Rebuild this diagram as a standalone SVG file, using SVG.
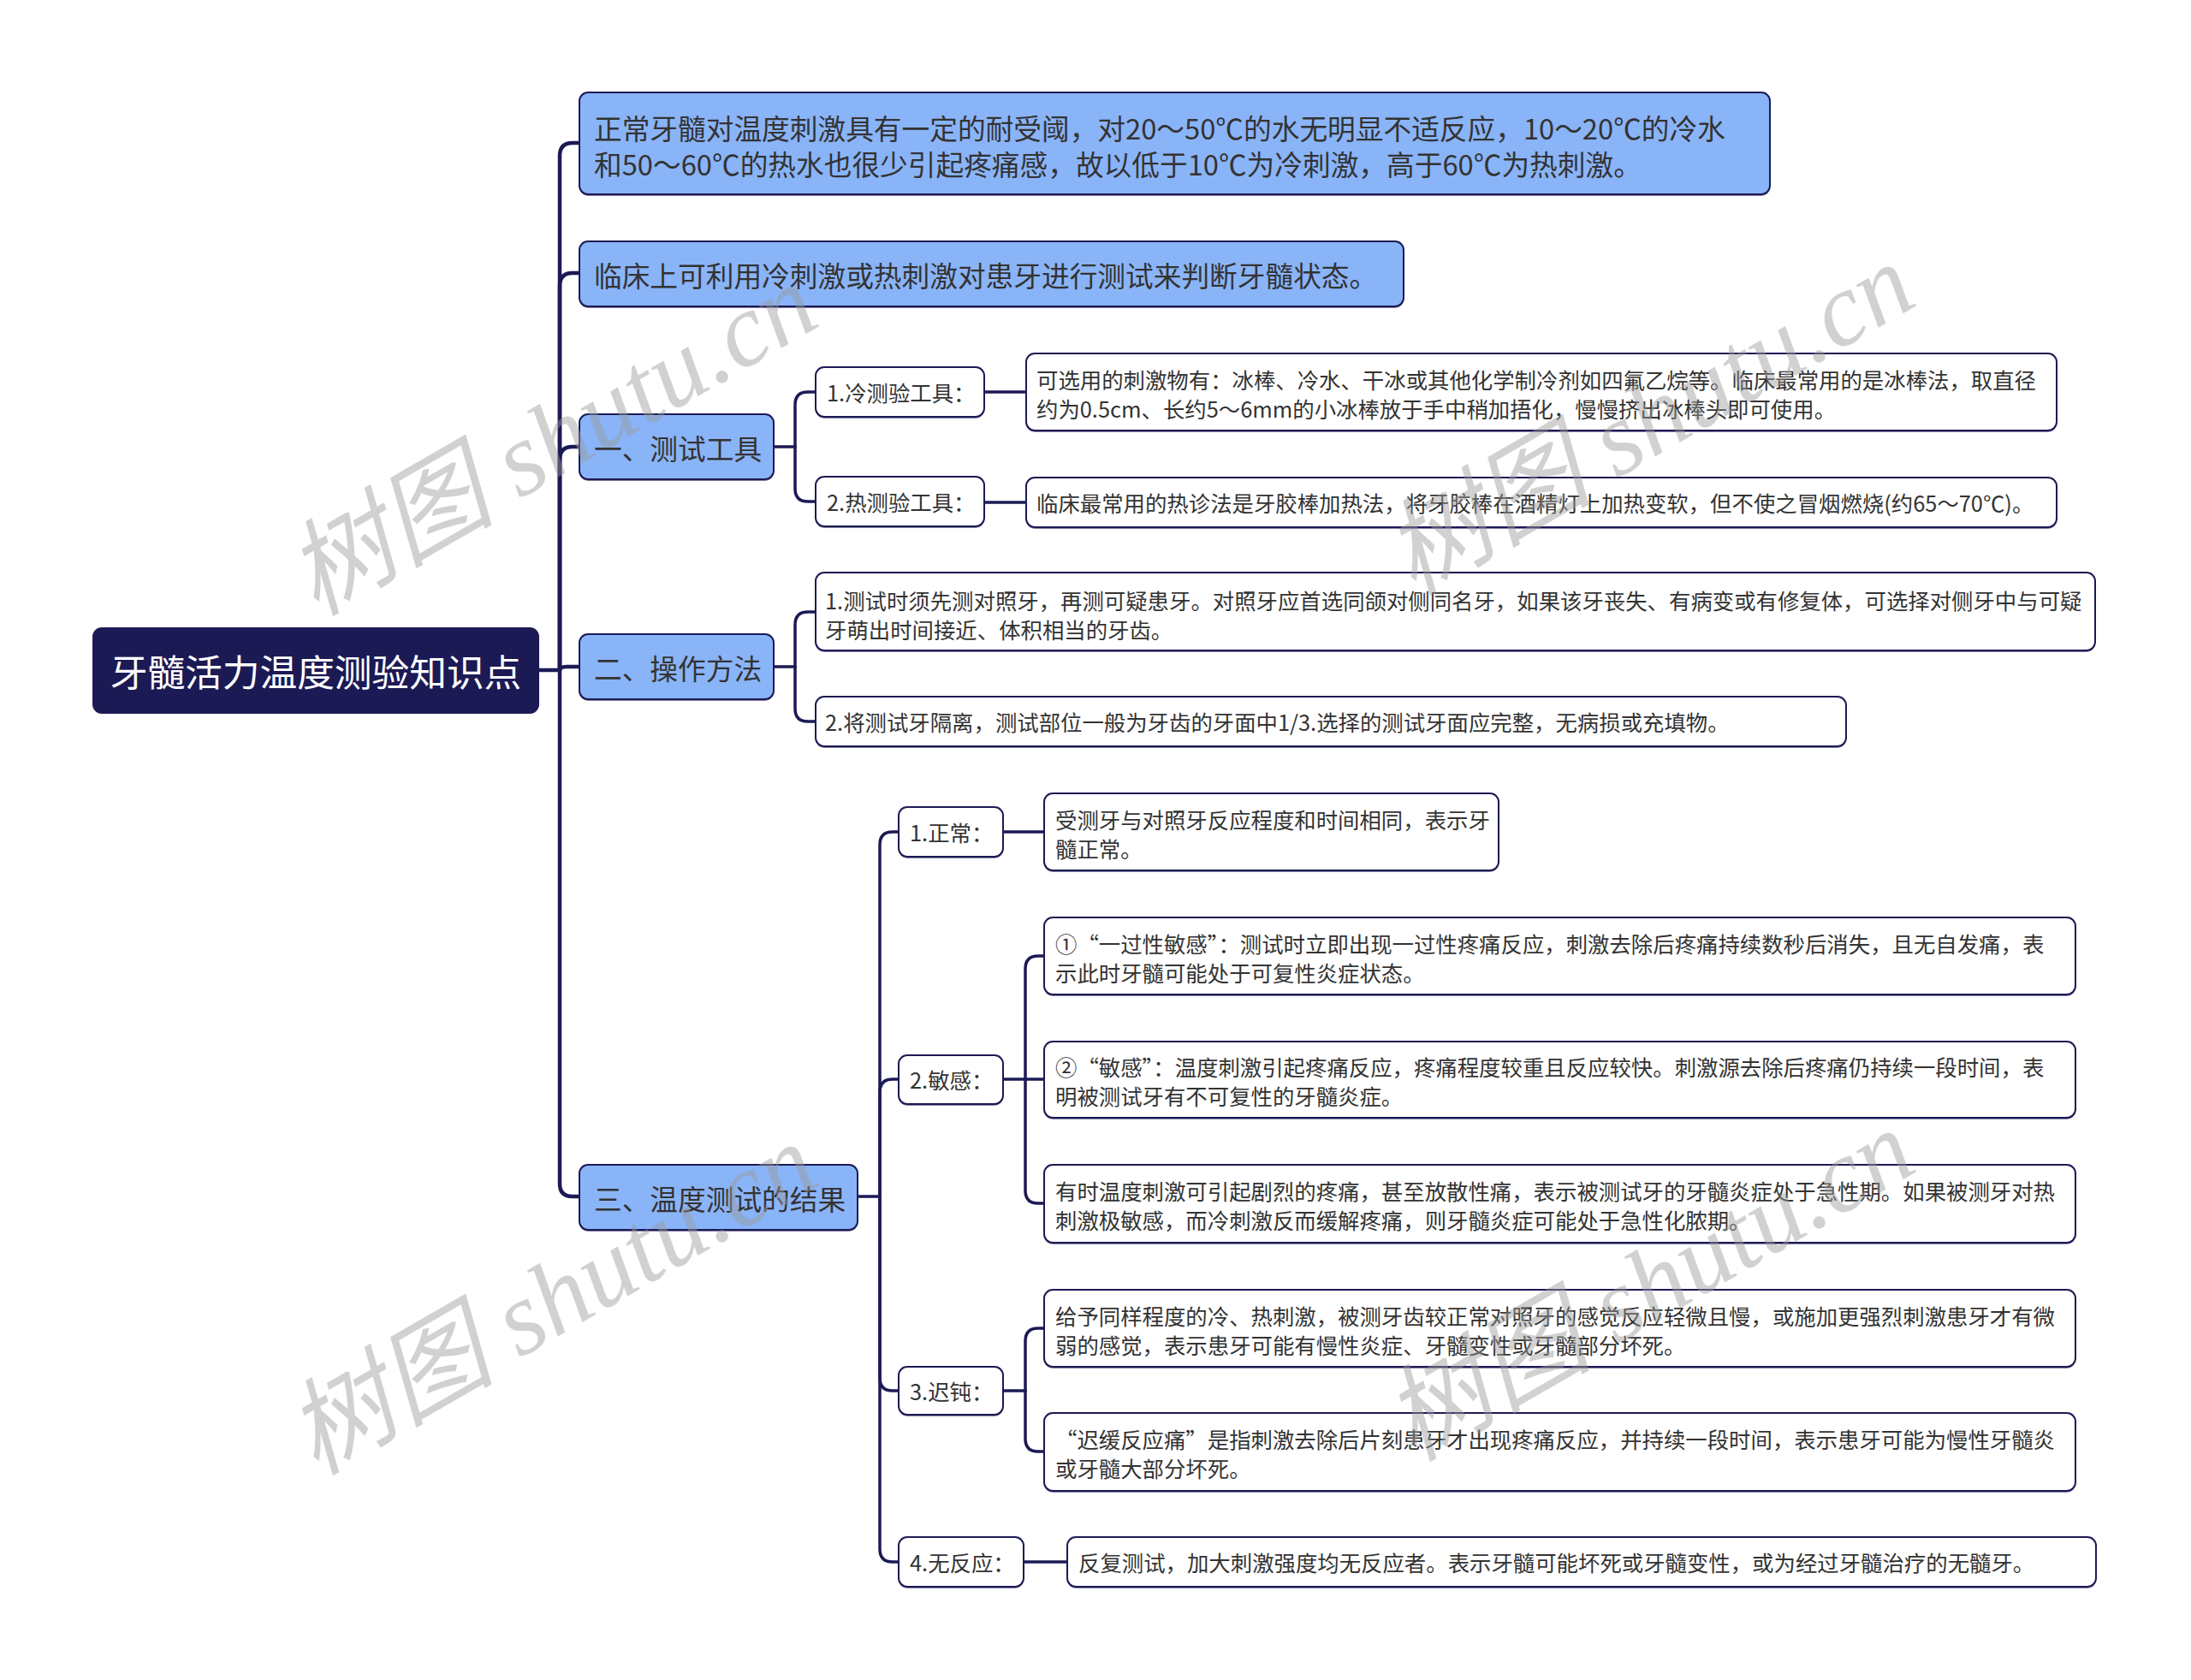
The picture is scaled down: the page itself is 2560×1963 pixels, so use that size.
<svg xmlns="http://www.w3.org/2000/svg" width="2560" height="1963" viewBox="0 0 2560 1963">
<style>
text{font-family:"Noto Sans CJK SC","Noto Sans",sans-serif;fill:#333;dominant-baseline:central}
.t0{font-size:43.7px;fill:#fff}
.t1{font-size:32.7px}
.t2{font-size:25.4px}
.b1{fill:#8ab4f8;stroke:#1c1a55;stroke-width:2}
.b2{fill:#fff;stroke:#1c1a55;stroke-width:2}
.sh{fill:#1c1a55;opacity:.55}
.c{fill:none;stroke:#1c1a55;stroke-width:3.5;stroke-linecap:round}
.cm{fill:none;stroke:#1c1a55;stroke-width:4.5;stroke-linecap:round}
.wm{font-family:"Liberation Serif","Noto Sans CJK SC",serif;font-style:italic;font-size:122px;fill:#9a9a9a;opacity:.45;dominant-baseline:auto}
</style>
<rect width="2560" height="1963" fill="#fff"/>
<g id="connectors">
<path class="cm" d="M630,783 H654"/>
<path class="cm" d="M654,783 V182 Q654,167 669,167 H677"/>
<path class="cm" d="M654,783 V334 Q654,319 669,319 H677"/>
<path class="cm" d="M654,783 V537 Q654,522 669,522 H677"/>
<path class="cm" d="M654,783 Q654,779 662,779 H677"/>
<path class="cm" d="M654,783 V1383 Q654,1398 669,1398 H677"/>
<path class="c" d="M905,522 H929"/>
<path class="c" d="M929,522 V473 Q929,458 944,458 H953"/>
<path class="c" d="M929,522 V571 Q929,586 944,586 H953"/>
<path class="c" d="M1150,458 H1199"/>
<path class="c" d="M1150,587 H1199"/>
<path class="c" d="M905,779 H929"/>
<path class="c" d="M929,779 V730 Q929,715 944,715 H953"/>
<path class="c" d="M929,779 V828 Q929,843 944,843 H953"/>
<path class="c" d="M1002,1398 H1028"/>
<path class="c" d="M1028,1398 V987 Q1028,972 1043,972 H1050"/>
<path class="c" d="M1028,1398 V1276 Q1028,1261 1043,1261 H1050"/>
<path class="c" d="M1028,1398 V1610 Q1028,1625 1043,1625 H1050"/>
<path class="c" d="M1028,1398 V1810 Q1028,1825 1043,1825 H1050"/>
<path class="c" d="M1172,972 H1220"/>
<path class="c" d="M1172,1261 H1198"/>
<path class="c" d="M1198,1261 V1132 Q1198,1117 1213,1117 H1220"/>
<path class="c" d="M1198,1261 H1220"/>
<path class="c" d="M1198,1261 V1391 Q1198,1406 1213,1406 H1220"/>
<path class="c" d="M1172,1625 H1198"/>
<path class="c" d="M1198,1625 V1567 Q1198,1552 1213,1552 H1220"/>
<path class="c" d="M1198,1625 V1681 Q1198,1696 1213,1696 H1220"/>
<path class="c" d="M1196,1825 H1247"/>
</g>
<g id="root">
<rect x="108" y="733" width="522" height="101" rx="11" fill="#1c1a55"/>
<text class="t0" x="369" y="783" text-anchor="middle">牙髓活力温度测验知识点</text>
</g>
<g id="n1">
<rect class="sh" x="677" y="110" width="1391" height="119" rx="10"/>
<rect class="b1" x="677" y="108" width="1391" height="119" rx="10"/>
<text class="t1" x="694" y="148">正常牙髓对温度刺激具有一定的耐受阈，对20～50℃的水无明显不适反应，10～20℃的冷水</text>
<text class="t1" x="694" y="190">和50～60℃的热水也很少引起疼痛感，故以低于10℃为冷刺激，高于60℃为热刺激。</text>
</g>
<g id="n2">
<rect class="sh" x="677" y="284" width="963" height="76" rx="10"/>
<rect class="b1" x="677" y="282" width="963" height="76" rx="10"/>
<text class="t1" x="694" y="320">临床上可利用冷刺激或热刺激对患牙进行测试来判断牙髓状态。</text>
</g>
<g id="n3">
<rect class="sh" x="677" y="486" width="227" height="76" rx="10"/>
<rect class="b1" x="677" y="484" width="227" height="76" rx="10"/>
<text class="t1" x="694" y="522">一、测试工具</text>
</g>
<g id="n3a">
<rect class="sh" x="953" y="431" width="197" height="58" rx="10"/>
<rect class="b2" x="953" y="429" width="197" height="58" rx="10"/>
<text class="t2" x="966" y="458">1.冷测验工具：</text>
</g>
<g id="n3a1">
<rect class="sh" x="1199" y="415" width="1204" height="90" rx="10"/>
<rect class="b2" x="1199" y="413" width="1204" height="90" rx="10"/>
<text class="t2" x="1211" y="443">可选用的刺激物有：冰棒、冷水、干冰或其他化学制冷剂如四氟乙烷等。临床最常用的是冰棒法，取直径</text>
<text class="t2" x="1211" y="477">约为0.5cm、长约5～6mm的小冰棒放于手中稍加捂化，慢慢挤出冰棒头即可使用。</text>
</g>
<g id="n3b">
<rect class="sh" x="953" y="559" width="197" height="58" rx="10"/>
<rect class="b2" x="953" y="557" width="197" height="58" rx="10"/>
<text class="t2" x="966" y="586">2.热测验工具：</text>
</g>
<g id="n3b1">
<rect class="sh" x="1199" y="560" width="1204" height="58" rx="10"/>
<rect class="b2" x="1199" y="558" width="1204" height="58" rx="10"/>
<text class="t2" x="1211" y="587">临床最常用的热诊法是牙胶棒加热法，将牙胶棒在酒精灯上加热变软，但不使之冒烟燃烧(约65～70℃)。</text>
</g>
<g id="n4">
<rect class="sh" x="677" y="743" width="227" height="76" rx="10"/>
<rect class="b1" x="677" y="741" width="227" height="76" rx="10"/>
<text class="t1" x="694" y="779">二、操作方法</text>
</g>
<g id="n4a">
<rect class="sh" x="953" y="671" width="1495" height="91" rx="10"/>
<rect class="b2" x="953" y="669" width="1495" height="91" rx="10"/>
<text class="t2" x="964" y="701">1.测试时须先测对照牙，再测可疑患牙。对照牙应首选同颌对侧同名牙，如果该牙丧失、有病变或有修复体，可选择对侧牙中与可疑</text>
<text class="t2" x="964" y="735">牙萌出时间接近、体积相当的牙齿。</text>
</g>
<g id="n4b">
<rect class="sh" x="953" y="816" width="1204" height="58" rx="10"/>
<rect class="b2" x="953" y="814" width="1204" height="58" rx="10"/>
<text class="t2" x="964" y="843">2.将测试牙隔离，测试部位一般为牙齿的牙面中1/3.选择的测试牙面应完整，无病损或充填物。</text>
</g>
<g id="n5">
<rect class="sh" x="677" y="1363" width="325" height="76" rx="10"/>
<rect class="b1" x="677" y="1361" width="325" height="76" rx="10"/>
<text class="t1" x="694" y="1399">三、温度测试的结果</text>
</g>
<g id="n5a">
<rect class="sh" x="1050" y="945" width="122" height="58" rx="10"/>
<rect class="b2" x="1050" y="943" width="122" height="58" rx="10"/>
<text class="t2" x="1063" y="972">1.正常：</text>
</g>
<g id="n5a1">
<rect class="sh" x="1220" y="929" width="531" height="90" rx="10"/>
<rect class="b2" x="1220" y="927" width="531" height="90" rx="10"/>
<text class="t2" x="1233" y="957">受测牙与对照牙反应程度和时间相同，表示牙</text>
<text class="t2" x="1233" y="991">髓正常。</text>
</g>
<g id="n5b">
<rect class="sh" x="1050" y="1235" width="122" height="57" rx="10"/>
<rect class="b2" x="1050" y="1233" width="122" height="57" rx="10"/>
<text class="t2" x="1063" y="1261">2.敏感：</text>
</g>
<g id="n5b1">
<rect class="sh" x="1220" y="1074" width="1205" height="90" rx="10"/>
<rect class="b2" x="1220" y="1072" width="1205" height="90" rx="10"/>
<text class="t2" x="1233" y="1102">①“一过性敏感”：测试时立即出现一过性疼痛反应，刺激去除后疼痛持续数秒后消失，且无自发痛，表</text>
<text class="t2" x="1233" y="1136">示此时牙髓可能处于可复性炎症状态。</text>
</g>
<g id="n5b2">
<rect class="sh" x="1220" y="1219" width="1205" height="89" rx="10"/>
<rect class="b2" x="1220" y="1217" width="1205" height="89" rx="10"/>
<text class="t2" x="1233" y="1246">②“敏感”：温度刺激引起疼痛反应，疼痛程度较重且反应较快。刺激源去除后疼痛仍持续一段时间，表</text>
<text class="t2" x="1233" y="1280">明被测试牙有不可复性的牙髓炎症。</text>
</g>
<g id="n5b3">
<rect class="sh" x="1220" y="1363" width="1205" height="91" rx="10"/>
<rect class="b2" x="1220" y="1361" width="1205" height="91" rx="10"/>
<text class="t2" x="1233" y="1391">有时温度刺激可引起剧烈的疼痛，甚至放散性痛，表示被测试牙的牙髓炎症处于急性期。如果被测牙对热</text>
<text class="t2" x="1233" y="1425">刺激极敏感，而冷刺激反而缓解疼痛，则牙髓炎症可能处于急性化脓期。</text>
</g>
<g id="n5c">
<rect class="sh" x="1050" y="1599" width="122" height="56" rx="10"/>
<rect class="b2" x="1050" y="1597" width="122" height="56" rx="10"/>
<text class="t2" x="1063" y="1625">3.迟钝：</text>
</g>
<g id="n5c1">
<rect class="sh" x="1220" y="1509" width="1205" height="90" rx="10"/>
<rect class="b2" x="1220" y="1507" width="1205" height="90" rx="10"/>
<text class="t2" x="1233" y="1537">给予同样程度的冷、热刺激，被测牙齿较正常对照牙的感觉反应轻微且慢，或施加更强烈刺激患牙才有微</text>
<text class="t2" x="1233" y="1571">弱的感觉，表示患牙可能有慢性炎症、牙髓变性或牙髓部分坏死。</text>
</g>
<g id="n5c2">
<rect class="sh" x="1220" y="1653" width="1205" height="91" rx="10"/>
<rect class="b2" x="1220" y="1651" width="1205" height="91" rx="10"/>
<text class="t2" x="1233" y="1681">“迟缓反应痛”是指刺激去除后片刻患牙才出现疼痛反应，并持续一段时间，表示患牙可能为慢性牙髓炎</text>
<text class="t2" x="1233" y="1715">或牙髓大部分坏死。</text>
</g>
<g id="n5d">
<rect class="sh" x="1050" y="1798" width="146" height="58" rx="10"/>
<rect class="b2" x="1050" y="1796" width="146" height="58" rx="10"/>
<text class="t2" x="1063" y="1825">4.无反应：</text>
</g>
<g id="n5d1">
<rect class="sh" x="1247" y="1798" width="1202" height="58" rx="10"/>
<rect class="b2" x="1247" y="1796" width="1202" height="58" rx="10"/>
<text class="t2" x="1260" y="1825">反复测试，加大刺激强度均无反应者。表示牙髓可能坏死或牙髓变性，或为经过牙髓治疗的无髓牙。</text>
</g>
<g id="watermarks">
<text class="wm" x="645" y="555" text-anchor="middle" transform="rotate(-30 645 514)">树图 shutu.cn</text>
<text class="wm" x="1927" y="531" text-anchor="middle" transform="rotate(-30 1927 490)">树图 shutu.cn</text>
<text class="wm" x="645" y="1559" text-anchor="middle" transform="rotate(-30 645 1518)">树图 shutu.cn</text>
<text class="wm" x="1927" y="1543" text-anchor="middle" transform="rotate(-30 1927 1502)">树图 shutu.cn</text>
</g>
</svg>
